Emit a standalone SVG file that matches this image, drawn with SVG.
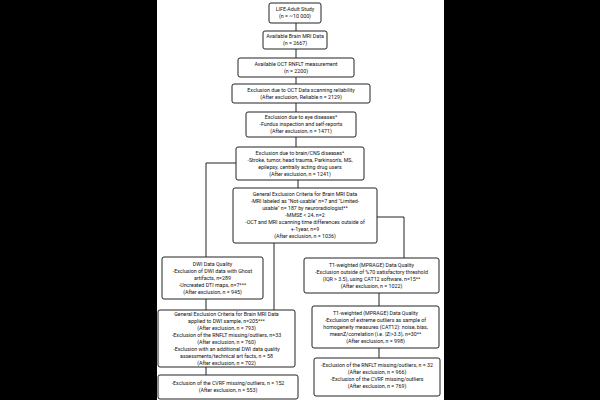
<svg xmlns="http://www.w3.org/2000/svg" width="600" height="400" viewBox="0 0 600 400">
<style>
.box{fill:#fff;stroke:#222;stroke-width:1}
.t{font-family:Roboto,"Liberation Sans",sans-serif;font-size:5.3px;fill:#111;text-anchor:middle}
.c{stroke:#222;stroke-width:1;fill:none}
</style>
<rect x="0" y="0" width="600" height="400" fill="#000"/>
<rect x="157" y="0" width="287" height="400" fill="#fff"/>
<g id="connectors">
<path class="c" d="M296 23V31M296 49V58M296 77V84M296 103V112M296 137V147M298 180V188"/>
<path class="c" d="M236 163H206V257"/>
<path class="c" d="M377 217H404V258"/>
<path class="c" d="M274 243V310"/>
<path class="c" d="M206 299V310M206 366V375"/>
<path class="c" d="M379 293V306M379 348V358"/>
</g>
<g id="n1"><rect class="box" x="269" y="3" width="52" height="20" rx="2"/>
<text class="t" x="295" y="11.3">LIFE-Adult Study</text><text class="t" x="295" y="18.3">(n = ~10 000)</text></g>
<g id="n2"><rect class="box" x="263" y="31" width="64" height="18" rx="2"/>
<text class="t" x="295" y="38.3">Available Brain MRI Data</text><text class="t" x="295" y="45.3">(n = 2667)</text></g>
<g id="n3"><rect class="box" x="238" y="58" width="116" height="19" rx="2"/>
<text class="t" x="296" y="65.8">Available OCT RNFLT measurement</text><text class="t" x="296" y="72.8">(n = 2200)</text></g>
<g id="n4"><rect class="box" x="232" y="84" width="138" height="19" rx="2"/>
<text class="t" x="301" y="91.8">Exclusion due to OCT Data scanning reliability</text><text class="t" x="301" y="98.8">(After exclusion, Reliable n = 2129)</text></g>
<g id="n5"><rect class="box" x="246" y="112" width="110" height="25" rx="2"/>
<text class="t" x="301" y="119.3">Exclusion due to eye diseases*</text><text class="t" x="301" y="126.3">-Fundus inspection and self-reports</text><text class="t" x="301" y="133.3">(After exclusion, n = 1471)</text></g>
<g id="n6"><rect class="box" x="236" y="147" width="128" height="33" rx="2"/>
<text class="t" x="300" y="154.8">Exclusion due to brain/CNS diseases*</text><text class="t" x="300" y="161.8">-Stroke, tumor, head trauma, Parkinson's, MS,</text><text class="t" x="300" y="168.8">epilepsy, centrally acting drug users</text><text class="t" x="300" y="175.8">(After exclusion, n = 1241)</text></g>
<g id="n7"><rect class="box" x="233" y="188" width="144" height="55" rx="2"/>
<text class="t" x="305" y="196.3">General Exclusion Criteria for Brain MRI Data</text><text class="t" x="305" y="203.3">-MRI labeled as "Not-usable" n=7  and "Limited-</text><text class="t" x="305" y="210.3">usable" n= 187 by neuroradiologist**</text><text class="t" x="305" y="217.3">-MMSE &lt; 24, n=2</text><text class="t" x="305" y="224.3">-OCT and MRI scanning time differences outside of</text><text class="t" x="305" y="231.3">+-1year, n=9</text><text class="t" x="305" y="238.3">(After exclusion, n = 1036)</text></g>
<g id="n8"><rect class="box" x="162" y="257" width="101" height="42" rx="2"/>
<text class="t" x="212.5" y="265.8">DWI Data Quality</text><text class="t" x="212.5" y="272.8">-Exclusion of DWI data with Ghost</text><text class="t" x="212.5" y="279.8">artifacts, n=289</text><text class="t" x="212.5" y="286.8">-Uncreated DTI maps, n=7***</text><text class="t" x="212.5" y="293.8">(After exclusion, n = 945)</text></g>
<g id="n9"><rect class="box" x="304" y="258" width="135" height="35" rx="2"/>
<text class="t" x="371.5" y="266.8">T1-weighted (MPRAGE) Data Quality</text><text class="t" x="371.5" y="273.8">-Exclusion outside of %70 satisfactory threshold</text><text class="t" x="371.5" y="280.8">(IQR &gt; 3.5), using CAT12 software, n=15**</text><text class="t" x="371.5" y="287.8">(After exclusion, n = 1022)</text></g>
<g id="n10"><rect class="box" x="158" y="310" width="137" height="57" rx="2"/>
<text class="t" x="226.5" y="316.3">General Exclusion Criteria for Brain MRI Data</text><text class="t" x="226.5" y="323.3">applied to DWI sample, n=205***</text><text class="t" x="226.5" y="330.3">(After exclusion, n = 793)</text><text class="t" x="226.5" y="337.3">-Exclusion of the RNFLT missing/outliers, n=33</text><text class="t" x="226.5" y="344.3">(After exclusion, n = 760)</text><text class="t" x="226.5" y="351.3">-Exclusion with an additional DWI data quality</text><text class="t" x="226.5" y="358.3">assessments/technical art facts, n = 58</text><text class="t" x="226.5" y="365.3">(After exclusion, n = 702)</text></g>
<g id="n11"><rect class="box" x="312" y="306" width="127" height="42" rx="2"/>
<text class="t" x="375.5" y="314.8">T1-weighted (MPRAGE) Data Quality</text><text class="t" x="375.5" y="321.8">-Exclusion of extreme outliers as sample of</text><text class="t" x="375.5" y="328.8">homogeneity measures (CAT12): noise, bias,</text><text class="t" x="375.5" y="335.8">meanZ/correlation (i.e. |Z|&gt;3.3), n=30**</text><text class="t" x="375.5" y="342.8">(After exclusion, n = 998)</text></g>
<g id="n12"><rect class="box" x="158" y="375" width="140" height="24" rx="2"/>
<text class="t" x="228" y="385.3">-Exclusion of the CVRF missing/outliers, n = 152</text><text class="t" x="228" y="392.3">(After exclusion, n = 553)</text></g>
<g id="n13"><rect class="box" x="314" y="358" width="126" height="38" rx="2"/>
<text class="t" x="377" y="366.8">-Exclusion of the RNFLT missing/outliers, n = 32</text><text class="t" x="377" y="373.8">(After exclusion, n = 966)</text><text class="t" x="377" y="380.8">-Exclusion of the CVRF missing/outliers</text><text class="t" x="377" y="387.8">(After exclusion, n = 769)</text></g>
</svg>
